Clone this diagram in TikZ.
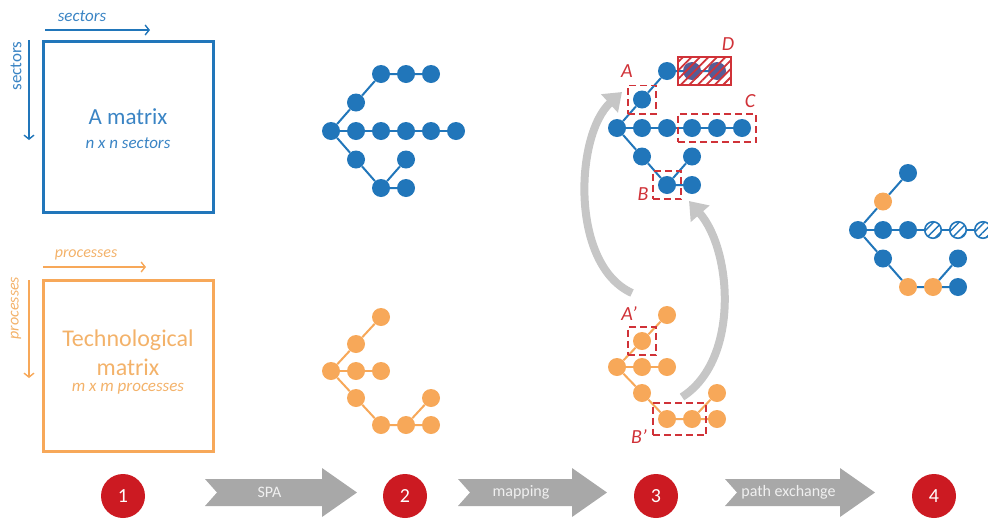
\documentclass[tikz,border=0pt]{standalone}
\usepackage{fontspec}
\setmainfont{Carlito}
\usetikzlibrary{arrows.meta,patterns.meta,fit}

\definecolor{nodeblue}{RGB}{33,118,186}
\definecolor{textblue}{RGB}{58,132,196}
\definecolor{nodeorange}{RGB}{247,168,89}
\definecolor{textorange}{RGB}{243,178,106}
\definecolor{mixpurple}{RGB}{86,92,150}
\definecolor{boxred}{RGB}{208,50,56}
\definecolor{numred}{RGB}{204,26,34}
\definecolor{arrowgray}{RGB}{168,168,168}
\definecolor{curvegray}{RGB}{198,198,198}

\tikzset{
  bnode/.style={circle, fill=nodeblue, inner sep=0pt, minimum size=18pt},
  onode/.style={circle, fill=nodeorange, inner sep=0pt, minimum size=18pt},
  pnode/.style={circle, fill=mixpurple, inner sep=0pt, minimum size=18pt},
  hnode/.style={circle, draw=nodeblue, line width=1.6pt, fill=white, inner sep=0pt, minimum size=16.5pt,
    postaction={pattern={Lines[angle=45,distance=6pt,line width=1.5pt]}, pattern color=nodeblue}},
  bedge/.style={nodeblue, line width=2pt},
  oedge/.style={nodeorange, line width=2pt},
  selbox/.style={draw=boxred, line width=1.6pt, dash pattern=on 7pt off 4pt, inner sep=5pt},
  sellabel/.style={text=boxred, font=\itshape\fontsize{20}{20}\selectfont},
  numcirc/.style={circle, fill=numred, minimum size=44pt, inner sep=0pt, text=white, font=\fontsize{20}{20}\selectfont},
  arrowlabel/.style={text=white!94!black, font=\fontsize{16}{16}\selectfont},
  bigarrow/.style={curvegray, line width=8pt, -{Triangle[width=24pt,length=17pt]}},
  axisarrow/.style={line width=1.4pt, -{Straight Barb[length=4pt,width=10pt]}}
}

% grey process arrow: from x #1 to tip x #2, label node #3 with text #4
\newcommand\procarrow[4]{%
  \fill[arrowgray] (#1,479) -- (#2-35,479) -- (#2-35,468) -- (#2,492.5) -- (#2-35,517)
    -- (#2-35,506) -- (#1,506) -- (#1+12,492.5) -- cycle;
  \node[arrowlabel] (#3) at ({(#1+#2-23)/2},492.5) {#4};}

\begin{document}
\begin{tikzpicture}[x=1pt, y=-1pt]
  \useasboundingbox (0,0) rectangle (988,528);

  %%% matrices
  \draw[nodeblue, line width=3pt] (43,41) rectangle (213,212);
  \draw[axisarrow, nodeblue] (45,30) -- (150,30);
  \draw[axisarrow, nodeblue] (29,40) -- (29,140);
  \node[text=textblue, font=\itshape\fontsize{17}{17}\selectfont] (secH) at (82,16) {sectors};
  \node[text=textblue, font=\fontsize{17}{17}\selectfont, rotate=90] (secV) at (16,66) {sectors};
  \node[text=textblue, font=\fontsize{23}{23}\selectfont] (amat) at (128,117) {A matrix};
  \node[text=textblue, font=\itshape\fontsize{17}{17}\selectfont] (asize) at (128,143) {n x n sectors};

  \draw[nodeorange, line width=3pt] (43,280) rectangle (213,451);
  \draw[axisarrow, nodeorange] (43,267) -- (146,267);
  \draw[axisarrow, nodeorange] (29,280) -- (29,378);
  \node[text=textorange, font=\itshape\fontsize{16}{16}\selectfont] (procH) at (86,255) {processes};
  \node[text=textorange, font=\itshape\fontsize{16}{16}\selectfont, rotate=90] (procV) at (16,308) {processes};
  \node[text=textorange, font=\fontsize{24}{24}\selectfont] (tmat1) at (128,340) {Technological};
  \node[text=textorange, font=\fontsize{24}{24}\selectfont] (tmat2) at (128,367) {matrix};
  \node[text=textorange, font=\itshape\fontsize{17}{17}\selectfont] (tsize) at (128,389) {m x m processes};

  %%% step 2, sectors tree
  \begin{scope}[shift={(331,131)}, x=25pt, y=-28.5pt]
    \node[bnode] (b2r) at (0,0) {};
    \foreach \i in {1,...,5} \node[bnode] (b2m\i) at (\i,0) {};
    \node[bnode] (b2u1) at (1,-1) {};
    \node[bnode] (b2u2) at (2,-2) {};
    \node[bnode] (b2u3) at (3,-2) {};
    \node[bnode] (b2u4) at (4,-2) {};
    \node[bnode] (b2l1) at (1,1) {};
    \node[bnode] (b2l2) at (2,2) {};
    \node[bnode] (b2l3) at (3,2) {};
    \node[bnode] (b2l4) at (3,1) {};
    \draw[bedge] (b2r) -- (b2m1) -- (b2m2) -- (b2m3) -- (b2m4) -- (b2m5);
    \draw[bedge] (b2r) -- (b2u1) -- (b2u2) -- (b2u3) -- (b2u4);
    \draw[bedge] (b2r) -- (b2l1) -- (b2l2) -- (b2l3);
    \draw[bedge] (b2l2) -- (b2l4);
  \end{scope}

  %%% step 2, processes tree
  \begin{scope}[shift={(331,371)}, x=25pt, y=-27pt]
    \node[onode] (o2r) at (0,0) {};
    \node[onode] (o2m1) at (1,0) {};
    \node[onode] (o2m2) at (2,0) {};
    \node[onode] (o2u1) at (1,-1) {};
    \node[onode] (o2u2) at (2,-2) {};
    \node[onode] (o2l1) at (1,1) {};
    \node[onode] (o2l2) at (2,2) {};
    \node[onode] (o2l3) at (3,2) {};
    \node[onode] (o2l4) at (4,2) {};
    \node[onode] (o2l5) at (4,1) {};
    \draw[oedge] (o2r) -- (o2m1) -- (o2m2);
    \draw[oedge] (o2r) -- (o2u1) -- (o2u2);
    \draw[oedge] (o2r) -- (o2l1) -- (o2l2) -- (o2l3) -- (o2l4);
    \draw[oedge] (o2l3) -- (o2l5);
  \end{scope}

  %%% step 3, sectors tree
  \begin{scope}[shift={(617,128)}, x=25pt, y=-28.5pt]
    \node[bnode] (b3r) at (0,0) {};
    \foreach \i in {1,...,5} \node[bnode] (b3m\i) at (\i,0) {};
    \node[bnode] (b3u1) at (1,-1) {};
    \node[bnode] (b3u2) at (2,-2) {};
    \node[pnode] (b3u3) at (3,-2) {};
    \node[pnode] (b3u4) at (4,-2) {};
    \node[bnode] (b3l1) at (1,1) {};
    \node[bnode] (b3l2) at (2,2) {};
    \node[bnode] (b3l3) at (3,2) {};
    \node[bnode] (b3l4) at (3,1) {};
    \draw[bedge] (b3r) -- (b3m1) -- (b3m2) -- (b3m3) -- (b3m4) -- (b3m5);
    \draw[bedge] (b3r) -- (b3u1) -- (b3u2) -- (b3u3) -- (b3u4);
    \draw[bedge] (b3r) -- (b3l1) -- (b3l2) -- (b3l3);
    \draw[bedge] (b3l2) -- (b3l4);
  \end{scope}

  %%% step 3, processes tree
  \begin{scope}[shift={(617,367)}, x=25pt, y=-26pt]
    \node[onode] (o3r) at (0,0) {};
    \node[onode] (o3m1) at (1,0) {};
    \node[onode] (o3m2) at (2,0) {};
    \node[onode] (o3u1) at (1,-1) {};
    \node[onode] (o3u2) at (2,-2) {};
    \node[onode] (o3l1) at (1,1) {};
    \node[onode] (o3l2) at (2,2) {};
    \node[onode] (o3l3) at (3,2) {};
    \node[onode] (o3l4) at (4,2) {};
    \node[onode] (o3l5) at (4,1) {};
    \draw[oedge] (o3r) -- (o3m1) -- (o3m2);
    \draw[oedge] (o3r) -- (o3u1) -- (o3u2);
    \draw[oedge] (o3r) -- (o3l1) -- (o3l2) -- (o3l3) -- (o3l4);
    \draw[oedge] (o3l3) -- (o3l5);
  \end{scope}

  %%% selections
  \node[selbox, fit=(b3u1)] (boxA) {};
  \node[selbox, fit=(b3l2)] (boxB) {};
  \node[selbox, fit=(b3m3) (b3m5)] (boxC) {};
  \node[draw=boxred, line width=1.6pt, inner sep=5pt, fit=(b3u3) (b3u4),
    pattern={Lines[angle=45,distance=6pt,line width=1.8pt]}, pattern color=boxred] (boxD) {};
  \node[selbox, fit=(o3u1)] (boxA2) {};
  \node[selbox, fit=(o3l2) (o3l3), inner ysep=7pt] (boxB2) {};
  \node[sellabel] (labA) at (627,71) {A};
  \node[sellabel] (labB) at (643,194) {B};
  \node[sellabel] (labC) at (750,101) {C};
  \node[sellabel] (labD) at (728,44) {D};
  \node[sellabel] (labA2) at (629,314) {A’};
  \node[sellabel] (labB2) at (639,437) {B’};

  \coordinate (fromA) at (632,293);
  \coordinate (toA) at (622,92);
  \coordinate (fromB) at (682,397);
  \coordinate (toB) at (689,201);
  \draw[bigarrow] (fromA) .. controls (570,265) and (575,135) .. (toA);
  \draw[bigarrow] (fromB) .. controls (740,360) and (732,250) .. (toB);

  %%% step 4, exchanged tree
  \begin{scope}[shift={(858,230)}, x=25pt, y=-28.5pt]
    \node[bnode] (b4r) at (0,0) {};
    \node[bnode] (b4m1) at (1,0) {};
    \node[bnode] (b4m2) at (2,0) {};
    \foreach \i in {3,4,5} \node[hnode] (b4m\i) at (\i,0) {};
    \node[onode] (b4u1) at (1,-1) {};
    \node[bnode] (b4u2) at (2,-2) {};
    \node[bnode] (b4l1) at (1,1) {};
    \node[onode] (b4l2) at (2,2) {};
    \node[onode] (b4l3) at (3,2) {};
    \node[bnode] (b4l4) at (4,2) {};
    \node[bnode] (b4l5) at (4,1) {};
    \draw[bedge] (b4r) -- (b4m1) -- (b4m2) -- (b4m3) -- (b4m4) -- (b4m5);
    \draw[bedge] (b4r) -- (b4u1) -- (b4u2);
    \draw[bedge] (b4r) -- (b4l1) -- (b4l2) -- (b4l3) -- (b4l4);
    \draw[bedge] (b4l3) -- (b4l5);
  \end{scope}

  %%% steps
  \node[numcirc] (n1) at (123,496) {1};
  \node[numcirc] (n2) at (405,496) {2};
  \node[numcirc] (n3) at (656,496) {3};
  \node[numcirc] (n4) at (934,496) {4};
  \procarrow{205}{357}{spa}{SPA}
  \procarrow{458}{607}{mapping}{mapping}
  \procarrow{725}{875}{pathex}{path exchange}
\end{tikzpicture}
\end{document}
